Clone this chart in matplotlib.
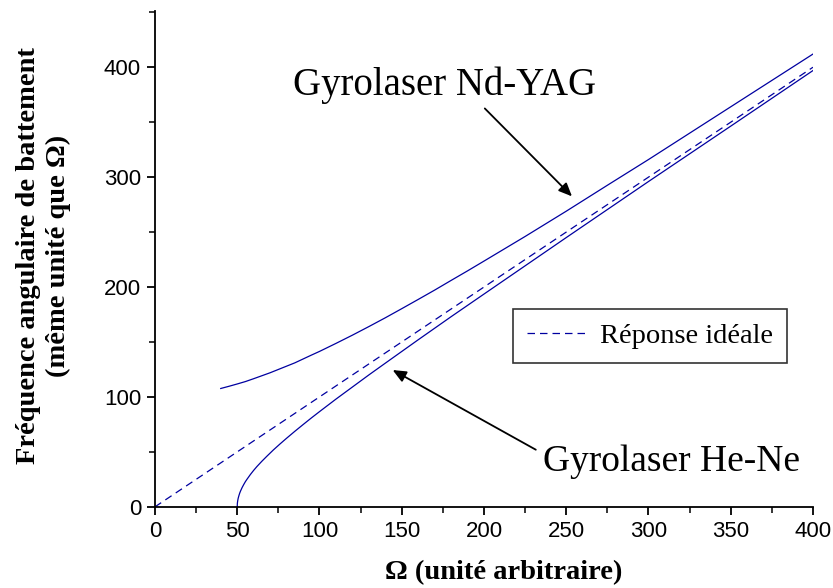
import numpy as np
import matplotlib.pyplot as plt
from matplotlib.ticker import MultipleLocator

# values
omega_hene = [50, 50.1, 50.3, 50.6, 51, 51.5, 52, 53, 54, 55, 56, 58, 60, 62, 65,
              68, 72, 76, 80, 85, 90, 95, 100, 110, 120, 130, 140, 160, 180,
              200, 250, 300, 350, 400]
beat_hene = [0, 3.2, 5.5, 7.8, 10, 12.4, 14.3, 17.6, 20.4, 23, 25.2, 29.4, 33.2,
             36.7, 41.5, 46, 51.8, 57.2, 62.4, 68.7, 74.8, 80.8, 86.6, 98, 109,
             120, 130.7, 152, 173, 193.6, 245, 296, 346.4, 397]

omega_ndyag = [40, 45, 50, 55, 60, 65, 70, 75, 80, 85, 90, 95, 100, 110, 120, 130,
               140, 150, 160, 170, 180, 190, 200, 225, 250, 275, 300, 350, 400]
beat_ndyag = [107.7, 109.7, 111.8, 114, 116.6, 119.3, 122, 125, 128, 131, 134.5,
              138, 141.4, 148.7, 156.2, 164, 172, 180.3, 188.7, 197.2, 206, 214.7,
              223.6, 246, 269, 292.6, 316, 364, 412]

omega_ideal = [0, 400]
beat_ideal = [0, 400]

line_color = '#0000A0'
serif = ['Liberation Serif', 'DejaVu Serif']
sans = ['Liberation Sans', 'DejaVu Sans']

fig = plt.figure(figsize=(8.33, 5.88), dpi=100)
ax = fig.add_axes([0.186, 0.138, 0.79, 0.843])

ax.plot(omega_hene, beat_hene, color=line_color, lw=0.9)
ax.plot(omega_ndyag, beat_ndyag, color=line_color, lw=0.9)
ax.plot(omega_ideal, beat_ideal, color=line_color, lw=0.9, ls=(0, (6, 4)),
        label='Réponse idéale')

ax.set_xlim(0, 400)
ax.set_ylim(0, 451)
ax.xaxis.set_major_locator(MultipleLocator(50))
ax.xaxis.set_minor_locator(MultipleLocator(25))
ax.yaxis.set_major_locator(MultipleLocator(100))
ax.yaxis.set_minor_locator(MultipleLocator(50))

for side in ['top', 'right']:
    ax.spines[side].set_visible(False)
for side in ['left', 'bottom']:
    ax.spines[side].set_linewidth(1.3)

ax.tick_params(which='major', direction='out', length=6, width=1.3,
               labelsize=16, pad=4)
ax.tick_params(which='minor', direction='out', length=4, width=1.1)
for lab in ax.get_xticklabels() + ax.get_yticklabels():
    lab.set_family(sans)

ax.set_xlabel('Ω (unité arbitraire)', family=serif, fontsize=20.5,
              fontweight='bold', va='top')
ax.xaxis.set_label_coords(0.53, -0.108)
ax.set_ylabel('Fréquence angulaire de battement\n(même unité que Ω)',
              family=serif, fontsize=20.5, fontweight='bold', linespacing=1.25)
ax.yaxis.set_label_coords(-0.128, 0.506)

# labels and arrows
ax.text(176, 384, 'Gyrolaser Nd-YAG', family=serif, fontsize=28,
        ha='center', va='center')
ax.annotate('', xy=(253.5, 282.5), xytext=(200.5, 362.5),
            arrowprops=dict(arrowstyle='-|>,head_length=0.8,head_width=0.35',
                            color='black', lw=1.3, shrinkA=0, shrinkB=0))

ax.text(314, 41, 'Gyrolaser He-Ne', family=serif, fontsize=27,
        ha='center', va='center')
ax.annotate('', xy=(144.5, 124.5), xytext=(231.5, 52),
            arrowprops=dict(arrowstyle='-|>,head_length=0.8,head_width=0.35',
                            color='black', lw=1.3, shrinkA=0, shrinkB=0))

leg = ax.legend(loc='upper left', bbox_to_anchor=(0.544, 0.399),
                prop={'family': serif, 'size': 20.5}, frameon=True,
                fancybox=False, edgecolor='black', handlelength=2.1,
                borderpad=0.5, handletextpad=0.46, borderaxespad=0)
leg.get_frame().set_linewidth(1.2)

plt.savefig('out.png', dpi=100)
